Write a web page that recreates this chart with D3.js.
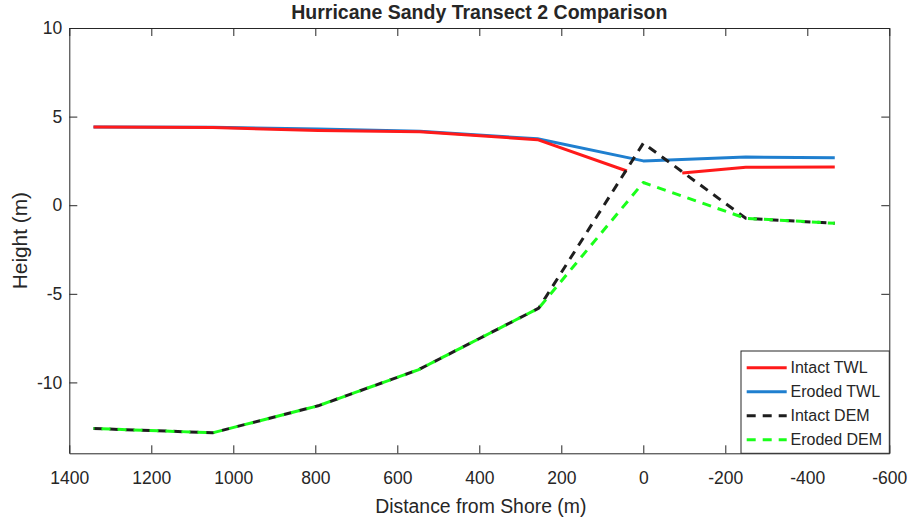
<!DOCTYPE html>
<html>
<head>
<meta charset="utf-8">
<script src="https://cdn.jsdelivr.net/npm/d3@7"></script>
<style>
  body { margin: 0; background: #fff; }
  text { font-family: "Liberation Sans", Arial, sans-serif; fill: #262626; }
</style>
</head>
<body>
<svg id="chart"></svg>
<script>
// distances from shore (m) and heights (m)
const distTWL = [1341, 1050, 793, 545, 258, 0, -250, -467];
const erodedTWL = [4.42, 4.40, 4.30, 4.17, 3.75, 2.50, 2.72, 2.68];
// intact TWL has a gap around the shoreline
const distIntactTWL = [1341, 1050, 793, 545, 258, 40, null, -95, -250, -467];
const intactTWL = [4.42, 4.38, 4.22, 4.15, 3.70, 1.93, NaN, 1.82, 2.14, 2.16];
const distDEM = [1341, 1050, 793, 549, 255, 0, -250, -467];
const intactDEM = [-12.6, -12.84, -11.32, -9.29, -5.81, 3.5, -0.74, -1.02];
const erodedDEM = [-12.6, -12.84, -11.32, -9.29, -5.81, 1.28, -0.74, -1.02];

const xTicks = [1400, 1200, 1000, 800, 600, 400, 200, 0, -200, -400, -600];
const yTicks = [-10, -5, 0, 5, 10];
const seriesNames = ['Intact TWL', 'Eroded TWL', 'Intact DEM', 'Eroded DEM'];

class TransectChart {
  constructor(_config) {
    this.config = {
      parentElement: _config.parentElement,
      containerWidth: _config.containerWidth || 909,
      containerHeight: _config.containerHeight || 518,
      margin: { top: 28, bottom: 64.7, right: 19.7, left: 69.3 },
    }
    this.initVis();
  }

  initVis() {
    let vis = this;
    vis.width = vis.config.containerWidth - vis.config.margin.left - vis.config.margin.right;
    vis.height = vis.config.containerHeight - vis.config.margin.top - vis.config.margin.bottom;

    vis.svg = d3.select(vis.config.parentElement)
        .attr('width', vis.config.containerWidth)
        .attr('height', vis.config.containerHeight);

    vis.chart = vis.svg.append('g')
        .attr('transform', `translate(${vis.config.margin.left},${vis.config.margin.top})`);

    // reversed x axis, like the original
    vis.x = d3.scaleLinear().domain([1400, -600]).range([0, vis.width]);
    vis.y = d3.scaleLinear().domain([-14, 10]).range([vis.height, 0]);

    vis.renderVis();
  }

  renderVis() {
    let vis = this;
    const axisColor = '#262626';
    // plain hyphen for negatives, as in the original
    const fmt = d => String(d);

    // axes (ticks pointing in)
    const xAxis = vis.chart.append('g')
        .attr('transform', `translate(0,${vis.height})`)
        .call(d3.axisBottom(vis.x).tickValues(xTicks).tickSizeInner(-8).tickSizeOuter(0).tickPadding(18).tickFormat(fmt));
    const xTop = vis.chart.append('g')
        .call(d3.axisTop(vis.x).tickValues(xTicks).tickSizeInner(-8).tickSizeOuter(0).tickFormat(''));
    const yAxis = vis.chart.append('g')
        .call(d3.axisLeft(vis.y).tickValues(yTicks).tickSizeInner(-8).tickSizeOuter(0).tickPadding(7).tickFormat(fmt));
    const yRight = vis.chart.append('g')
        .attr('transform', `translate(${vis.width},0)`)
        .call(d3.axisRight(vis.y).tickValues(yTicks).tickSizeInner(-8).tickSizeOuter(0).tickFormat(''));

    [xAxis, xTop, yAxis, yRight].forEach(a => {
      a.select('.domain').attr('stroke', axisColor);
      a.selectAll('.tick line').attr('stroke', axisColor);
      a.selectAll('.tick text')
        .style('font-size', '17.5px')
        .style('font-family', '"Liberation Sans", Arial, sans-serif')
        .attr('fill', axisColor);
    });

    // lines
    const series = [
      { name: 'Eroded TWL', xs: distTWL, ys: erodedTWL, color: '#1f7fcf', dash: null, offset: 0 },
      { name: 'Intact TWL', xs: distIntactTWL, ys: intactTWL, color: '#ff1a1a', dash: null, offset: 0 },
      { name: 'Intact DEM', xs: distDEM, ys: intactDEM, color: '#1e1e1e', dash: '9,7', offset: 0 },
      { name: 'Eroded DEM', xs: distDEM, ys: erodedDEM, color: '#1aff1a', dash: '9,7', offset: 8 },
    ];

    const line = d3.line()
        .defined(d => d[0] !== null && !isNaN(d[1]))
        .x(d => vis.x(d[0]))
        .y(d => vis.y(d[1]));

    vis.chart.append('g')
      .selectAll('path')
      .data(series)
      .enter()
      .append('path')
        .attr('d', s => line(s.xs.map((xv, i) => [xv, s.ys[i]])))
        .attr('fill', 'none')
        .attr('stroke', s => s.color)
        .attr('stroke-width', 3)
        .attr('stroke-dasharray', s => s.dash)
        .attr('stroke-dashoffset', s => s.offset)
        .attr('stroke-linejoin', 'round');

    // title and axis labels
    vis.svg.append('text')
        .attr('x', vis.config.margin.left + vis.width / 2)
        .attr('y', 18.5)
        .attr('text-anchor', 'middle')
        .style('font-size', '19.5px')
        .style('font-weight', 'bold')
        .attr('fill', '#000')
        .text('Hurricane Sandy Transect 2 Comparison');

    vis.svg.append('text')
        .attr('x', vis.config.margin.left + vis.width / 2 + 1.5)
        .attr('y', 512.5)
        .attr('text-anchor', 'middle')
        .style('font-size', '19.4px')
        .text('Distance from Shore (m)');

    vis.svg.append('text')
        .attr('transform', `translate(27,${vis.config.margin.top + vis.height / 2}) rotate(-90)`)
        .attr('text-anchor', 'middle')
        .style('font-size', '20.8px')
        .text('Height (m)');

    // legend in lower right corner
    const legendColors = { 'Intact TWL': '#ff1a1a', 'Eroded TWL': '#1f7fcf', 'Intact DEM': '#1e1e1e', 'Eroded DEM': '#1aff1a' };
    const legendDash = { 'Intact TWL': null, 'Eroded TWL': null, 'Intact DEM': '9,7', 'Eroded DEM': '9,7' };
    const lg = vis.chart.append('g')
        .attr('transform', `translate(${vis.width - 148.3},${vis.height - 102.3})`);
    lg.append('rect')
        .attr('width', 148.3)
        .attr('height', 102.3)
        .attr('fill', '#fff')
        .attr('stroke', axisColor)
        .attr('stroke-width', 1);
    const items = lg.selectAll('.item')
      .data(seriesNames)
      .enter()
      .append('g')
        .attr('class', 'item')
        .attr('transform', (d, i) => `translate(0,${16.7 + i * 24})`);
    items.append('line')
        .attr('x1', 5.7).attr('x2', 45.7)
        .attr('stroke', d => legendColors[d])
        .attr('stroke-width', 3)
        .attr('stroke-dasharray', d => legendDash[d]);
    items.append('text')
        .attr('x', 49.5)
        .attr('dy', '0.35em')
        .style('font-size', '16px')
        .attr('fill', '#000')
        .text(d => d);
  }
}

new TransectChart({ parentElement: '#chart' });
</script>
</body>
</html>
